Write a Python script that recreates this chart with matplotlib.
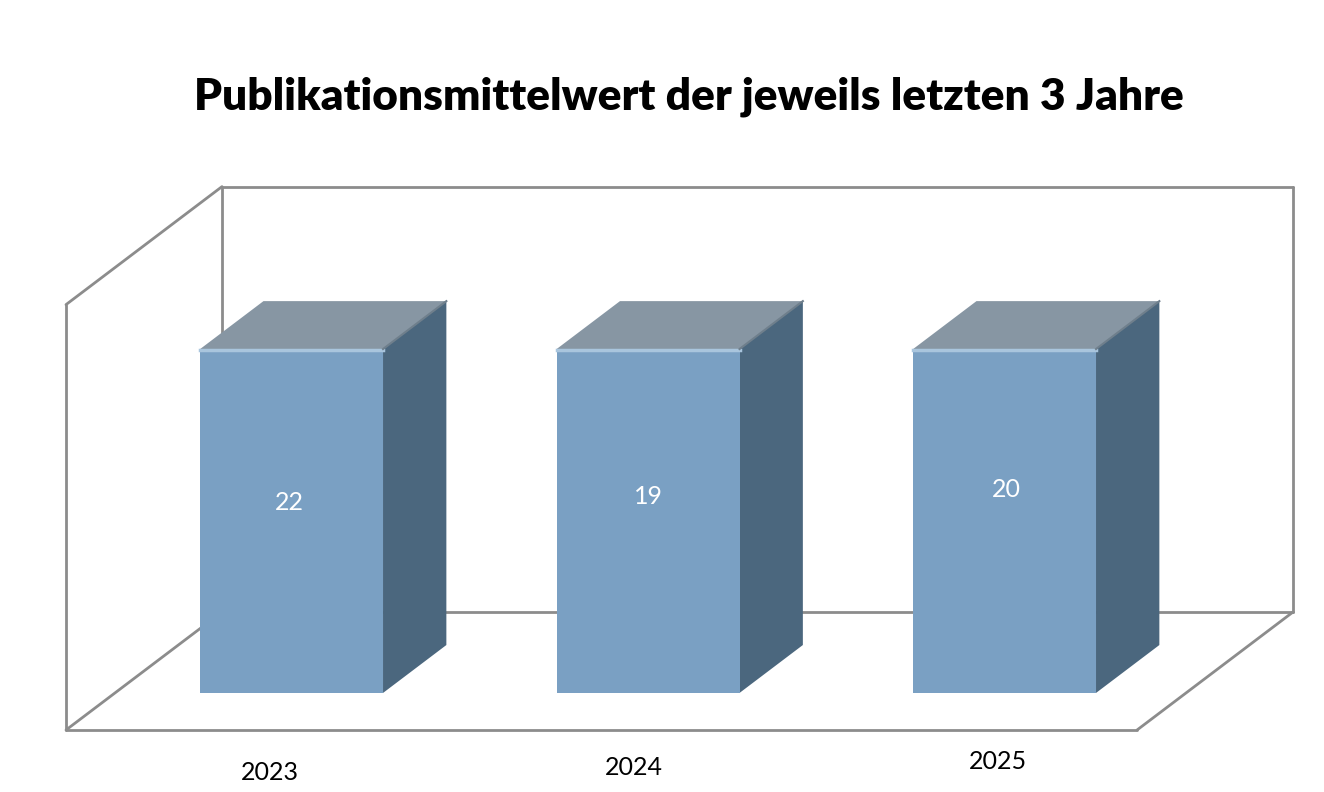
import matplotlib.pyplot as plt
import numpy as np
from matplotlib.patches import Polygon

# Daten
jahre = ['2023', '2024', '2025']
mittelwerte = [22, 19, 20]
titel = 'Publikationsmittelwert der jeweils letzten 3 Jahre'

# Die Säulen erscheinen im Original alle gleich hoch (bei 19 abgeschnitten)
hoehe_gezeigt = np.minimum(mittelwerte, 19)
wand_hoehe = 23.5

# Schräge Projektion: Tiefe d in [0, 1] verschiebt nach rechts oben
DX, DY = 0.4376, 6.52
d_vorne, d_hinten = 0.314, 0.72
breite = 0.513


def proj(x, v, d):
    return (x + d * DX, v + d * DY)


fig = plt.figure(figsize=(13.24, 7.92), dpi=100)
ax = fig.add_axes([0, 0, 1, 1])
ax.set_xlim(-0.6805, 3.0334)
ax.set_ylim(-3.425, 40.33)
ax.axis('off')

# Wände und Boden
x0, x1 = -0.4954, 2.509
linie = dict(color='#8c8c8c', lw=2, solid_capstyle='round', zorder=1)
kanten = [
    [(x0, wand_hoehe, 1), (x1, wand_hoehe, 1)],
    [(x1, wand_hoehe, 1), (x1, 0, 1)],
    [(x0, 0, 1), (x1, 0, 1)],
    [(x0, wand_hoehe, 1), (x0, 0, 1)],
    [(x0, 0, 0), (x0, wand_hoehe, 0)],
    [(x0, wand_hoehe, 0), (x0, wand_hoehe, 1)],
    [(x0, 0, 0), (x1, 0, 0)],
    [(x1, 0, 0), (x1, 0, 1)],
    [(x0, 0, 0), (x0, 0, 1)],
]
for a, b in kanten:
    pa, pb = proj(*a), proj(*b)
    ax.plot([pa[0], pb[0]], [pa[1], pb[1]], **linie)

# Säulen
for i, (h, wert) in enumerate(zip(hoehe_gezeigt, mittelwerte)):
    l, r = i - breite / 2, i + breite / 2
    vorne = [proj(l, 0, d_vorne), proj(r, 0, d_vorne), proj(r, h, d_vorne), proj(l, h, d_vorne)]
    seite = [proj(r, 0, d_vorne), proj(r, 0, d_hinten), proj(r, h, d_hinten), proj(r, h, d_vorne)]
    oben = [proj(l, h, d_vorne), proj(r, h, d_vorne), proj(r, h, d_hinten), proj(l, h, d_hinten)]
    ax.add_patch(Polygon(seite, closed=True, fc='#4b677e', ec='none', zorder=3))
    ax.add_patch(Polygon(oben, closed=True, fc='#8796a3', ec='none', zorder=3))
    ax.add_patch(Polygon(vorne, closed=True, fc='#7aa0c3', ec='none', zorder=4))
    # heller Rand an der Vorderkante oben
    a, b = proj(l, h - 0.08, d_vorne), proj(r, h - 0.08, d_vorne)
    ax.plot([a[0], b[0]], [a[1], b[1]], color='#a9c5dd', lw=2.5, zorder=5)
    # dunkle Kante zwischen Deckel und Seite
    a, b = proj(r, h, d_vorne), proj(r, h, d_hinten)
    ax.plot([a[0], b[0]], [a[1], b[1]], color='#6f7f8c', lw=1.5, zorder=5)

    mx, my = proj(i, 0, d_vorne)
    ax.text(mx + 0.005 * (i - 1), 12.55 + 0.36 * i, str(wert), color='white',
            fontsize=18, family='Lato', ha='center', va='center', zorder=6)
    ax.text(mx - 0.06 + 0.02 * i, -2.35 + 0.3 * i, jahre[i], color='black',
            fontsize=18, family='Lato', ha='center', va='center', zorder=6)

fig.text(0.52, 1 - 97 / 792, titel, fontsize=31.8, fontweight='heavy', family='Lato',
         ha='center', va='center')

fig.savefig('out.png', dpi=100)
